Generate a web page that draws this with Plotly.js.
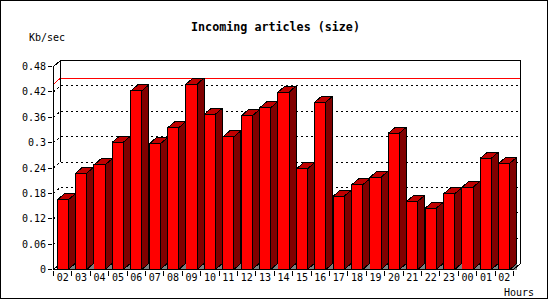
<!DOCTYPE html>
<html>
<head>
<meta charset="utf-8">
<script src="https://cdn.plot.ly/plotly-3.0.1.min.js"></script>
<style>
  html, body { margin: 0; padding: 0; background: #ffffff; }
  #chart { width: 550px; height: 300px; }
  #chart svg path { shape-rendering: crispEdges; }
</style>
</head>
<body>
<div id="chart"></div>
<script>
// ---- data ----
const hourLabels = ['02','03','04','05','06','07','08','09','10','11','12','13','14',
                    '15','16','17','18','19','20','21','22','23','00','01','02'];
const kbPerSec = [0.1645, 0.2277, 0.2473, 0.3010, 0.4225, 0.2970, 0.3350, 0.4383, 0.3673,
                  0.3136, 0.3633, 0.3822, 0.4194, 0.2379, 0.3957, 0.1732, 0.2000, 0.2182,
                  0.3224, 0.1614, 0.1448, 0.1787, 0.1945, 0.2632, 0.2513];
const yTickVals = [0, 0.06, 0.12, 0.18, 0.24, 0.3, 0.36, 0.42, 0.48];
const yTickText = ['0', '0.06', '0.12', '0.18', '0.24', '0.3', '0.36', '0.42', '0.48'];
const titleText = 'Incoming articles (size)';
const yUnitText = 'Kb/sec';
const xUnitText = 'Hours';

// ---- geometry ----
const W = 550, H = 300, L = 53, R = 28, T = 58, B = 30;
const PW = W - L - R, PH = H - T - B;
const SX = 18.4;                              // px per category
const yTop = yTickVals[yTickVals.length - 1];
const SY = (269.5 - 66.5) / yTop;             // px per unit
const dx = 7 / SX, dy = 6 / SY;               // 3D depth in data units
const hw = 0.3;                               // half bar width
const n = kbPerSec.length;
const xs = kbPerSec.map((_, i) => i);
const xMin = -0.5, xMax = n - 0.5;
const xr0 = xMin - 0.5 / SX, xr1 = xr0 + PW / SX;
const yr0 = -0.5 / SY, yr1 = yr0 + PH / SY;

const px = p => (p - L) / PW;
const py = p => (H - B - p) / PH;
const FONT = 'DejaVu Sans Mono';

// floor triangles, side faces, top faces
const fx = [], fy = [], sx = [], sy = [], tx = [], ty = [];
xs.forEach((x, i) => {
  const v = kbPerSec[i], xl = x - hw, xr = x + hw;
  fx.push(xr, xr + dx, xr + dx, xr, null);
  fy.push(0, dy, 0, 0, null);
  sx.push(xr, xr, xr + dx, xr + dx, xr, null);
  sy.push(0, v, v + dy, dy, 0, null);
  tx.push(xl, xl + dx, xr + dx, xr, xl, null);
  ty.push(v, v + dy, v + dy, v, v, null);
});

const traces = [
  { type: 'bar', x: xs, y: kbPerSec, width: 2 * hw,
    marker: { color: '#ff0000', line: { color: '#000000', width: 1 } } },
  { type: 'scatter', mode: 'lines', x: fx, y: fy, fill: 'toself',
    fillcolor: '#808080', line: { width: 0, color: '#808080' } },
  { type: 'scatter', mode: 'lines', x: sx, y: sy, fill: 'toself',
    fillcolor: '#800000', line: { width: 1, color: '#000000' } },
  { type: 'scatter', mode: 'lines', x: tx, y: ty, fill: 'toself',
    fillcolor: '#c00000', line: { width: 1, color: '#000000' } },
  // carrier for the boundary-tick axis (draws nothing visible)
  { type: 'scatter', mode: 'lines', x: xs, y: kbPerSec, xaxis: 'x2', yaxis: 'y',
    opacity: 0, line: { width: 0 } }
];

const shapes = [];
// back-plane dotted grid lines with left diagonals
yTickVals.slice(1, -1).forEach(v => {
  shapes.push({ type: 'path', xref: 'x', yref: 'y', layer: 'below',
    path: `M ${xMin},${v} L ${xMin + dx},${v + dy} L ${xMax + dx},${v + dy}`,
    line: { color: '#000000', width: 1, dash: '2px,3px' } });
});
// maximum value line
const vMax = Math.max(...kbPerSec);
shapes.push({ type: 'path', xref: 'x', yref: 'y', layer: 'below',
  path: `M ${xMin},${vMax} L ${xMin + dx},${vMax + dy} L ${xMax + dx},${vMax + dy}`,
  line: { color: '#ff0000', width: 1 } });
// back plane outline
const edgeFrom = yTickVals[4] + dy;
shapes.push({ type: 'path', xref: 'x', yref: 'y', layer: 'below',
  path: `M ${xMin + dx},${edgeFrom} L ${xMin + dx},${yTop + dy} L ${xMax + dx},${yTop + dy} L ${xMax + dx},${dy} L ${xMax},0`,
  line: { color: '#000000', width: 1 } });
// left floor diagonal
shapes.push({ type: 'path', xref: 'x', yref: 'y', layer: 'below',
  path: `M ${xMin},0 L ${xMin + dx},${dy}`,
  line: { color: '#000000', width: 1 } });
// front axes
shapes.push({ type: 'path', xref: 'x', yref: 'y', layer: 'above',
  path: `M ${xMin + dx},${yTop + dy} L ${xMin},${yTop} L ${xMin},0 L ${xMax},0 L ${xMax + dx},${dy}`,
  line: { color: '#000000', width: 1 } });
// outer frame
shapes.push({ type: 'rect', xref: 'paper', yref: 'paper', layer: 'above',
  x0: px(0.5), x1: px(547.5), y0: py(298.5), y1: py(0.5),
  line: { color: '#000000', width: 1 } });

const boundaryVals = hourLabels.map((_, i) => i - 0.5).concat([xMax]);

const layout = {
  width: W, height: H,
  margin: { l: L, r: R, t: T, b: B, pad: 0 },
  paper_bgcolor: '#ffffff', plot_bgcolor: '#ffffff',
  showlegend: false,
  hovermode: false,
  title: { text: titleText, xref: 'container', yref: 'container',
           x: 275.5 / W, y: 1 - 26.5 / H, xanchor: 'center', yanchor: 'middle',
           font: { family: FONT, size: 11.7, color: '#000000', weight: 'bold' } },
  xaxis: { range: [xr0, xr1], showgrid: false, zeroline: false, showline: false,
           tickmode: 'array', tickvals: xs, ticktext: hourLabels,
           ticks: '', tickangle: 0,
           tickfont: { family: FONT, size: 10, color: '#000000' } },
  xaxis2: { range: [xr0, xr1], overlaying: 'x', anchor: 'y', side: 'bottom',
            showgrid: false, zeroline: false, showline: false, showticklabels: false,
            tickmode: 'array', tickvals: boundaryVals,
            ticks: 'outside', ticklen: 5, tickwidth: 1, tickcolor: '#000000' },
  yaxis: { range: [yr0, yr1], showgrid: false, zeroline: false, showline: false,
           tickmode: 'array', tickvals: yTickVals, ticktext: yTickText,
           ticks: 'outside', ticklen: 4, tickwidth: 1, tickcolor: '#000000',
           tickfont: { family: FONT, size: 10, color: '#000000' } },
  shapes: shapes,
  annotations: [
    { text: yUnitText, xref: 'paper', yref: 'paper', x: px(47), y: py(37.3),
      xanchor: 'center', yanchor: 'middle', showarrow: false,
      font: { family: FONT, size: 10, color: '#000000' } },
    { text: xUnitText, xref: 'paper', yref: 'paper', x: px(519), y: py(292.3),
      xanchor: 'center', yanchor: 'middle', showarrow: false,
      font: { family: FONT, size: 10, color: '#000000' } }
  ]
};

Plotly.newPlot('chart', traces, layout, { staticPlot: true, displayModeBar: false });
</script>
</body>
</html>
